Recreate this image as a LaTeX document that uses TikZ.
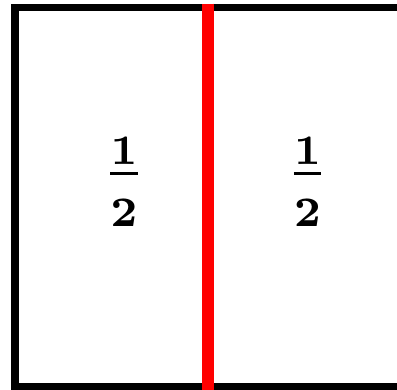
\documentclass[tikz,border=0pt]{standalone}
\usepackage{amsmath}
\usepackage{tikz}
\definecolor{frame}{HTML}{000000}
\definecolor{cut}{HTML}{FF0000}

\begin{document}
\begin{tikzpicture}[x=1pt,y=1pt]
  \useasboundingbox (0,0) rectangle (397,390);

  \coordinate (topright) at (397,382.5);
  \coordinate (topleft) at (15,382.5);
  \coordinate (botleft) at (15,3.5);
  \coordinate (botright) at (397,3.5);
  \coordinate (cuttop) at (208,386.25);
  \coordinate (cutbot) at (208,0);

  % square, open on the right
  \draw[frame,line width=7.5pt,line join=miter] (topright) -- (topleft) -- (botleft) -- (botright);
  % the cut down the middle
  \draw[cut,line width=12pt] (cuttop) -- (cutbot);

  \foreach \x/\name in {124/lefthalf,307.5/righthalf}
    \node[anchor=base,scale=6,inner sep=0pt] (\name) at (\x,201.5) {$\genfrac{}{}{0.6pt}{1}{\mathbf{1}}{\rule{0pt}{.79em}\mathbf{2}}$};
\end{tikzpicture}
\end{document}
